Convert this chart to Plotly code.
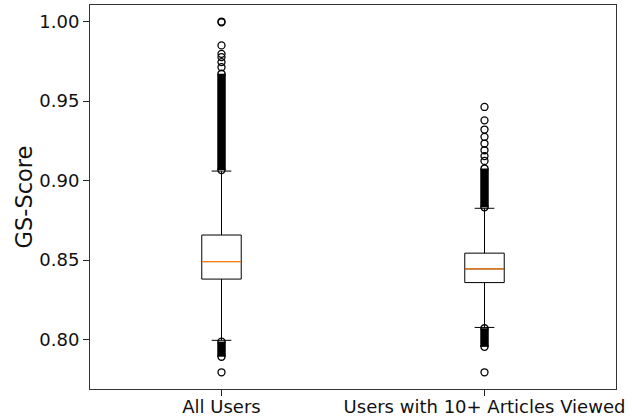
import plotly.graph_objects as go

# Group names shown on the x axis
groups = ["All Users", "Users with 10+ Articles Viewed"]
positions = [1, 2]

# Box statistics per group
q1 = [0.8381, 0.8359]
median = [0.8491, 0.8445]
q3 = [0.8658, 0.8544]
lower_whisker = [0.7996, 0.8077]
upper_whisker = [0.9060, 0.8826]

# Individually distinguishable outliers per group
outliers_all = [0.7795, 0.9713, 0.9745, 0.9776, 0.9797, 0.9850, 0.9995, 1.0000]
outliers_10plus = [0.7795, 0.9124, 0.9154, 0.9191, 0.9233, 0.9275, 0.9321, 0.9379, 0.9463]
outlier_lists = [outliers_all, outliers_10plus]

# Ranges so densely packed with outliers that they merge into a solid band
dense_low = [(0.7893, 0.7988), (0.7955, 0.8072)]
dense_high = [(0.9066, 0.9672), (0.8832, 0.9076)]

box_width = 0.15
FONT = "DejaVu Sans"

fig = go.Figure()

for i, p in enumerate(positions):
    fig.add_trace(go.Box(
        x=[p], q1=[q1[i]], median=[median[i]], q3=[q3[i]],
        lowerfence=[lower_whisker[i]], upperfence=[upper_whisker[i]],
        width=box_width, whiskerwidth=0.5, boxpoints=False,
        line=dict(color="black", width=1), fillcolor="rgba(0,0,0,0)",
        showlegend=False, hoverinfo="skip",
    ))

for i, p in enumerate(positions):
    # merged outlier bands
    for lo, hi in (dense_low[i], dense_high[i]):
        fig.add_trace(go.Scatter(
            x=[p, p], y=[lo, hi], mode="lines+markers",
            line=dict(color="black", width=8.5),
            marker=dict(symbol="circle-open", size=7, color="black",
                        line=dict(width=1.4, color="black")),
            showlegend=False, hoverinfo="skip",
        ))
    # separate outlier circles
    fig.add_trace(go.Scatter(
        x=[p] * len(outlier_lists[i]), y=outlier_lists[i], mode="markers",
        marker=dict(symbol="circle-open", size=7, color="black",
                    line=dict(width=1.3, color="black")),
        showlegend=False, hoverinfo="skip",
    ))
    # median line in orange
    fig.add_trace(go.Scatter(
        x=[p - box_width / 2, p + box_width / 2], y=[median[i], median[i]],
        mode="lines", line=dict(color="#ff7f0e", width=1.3),
        showlegend=False, hoverinfo="skip",
    ))

fig.update_layout(
    width=632, height=419,
    margin=dict(l=90, r=15.5, t=5, b=29.5),
    paper_bgcolor="white", plot_bgcolor="white",
    font=dict(family=FONT, color="#111111"),
    xaxis=dict(
        range=[0.5, 2.5], tickvals=positions, ticktext=groups,
        tickfont=dict(size=18, family=FONT, color="#111111"),
        ticks="outside", ticklen=6, tickcolor="#222222", ticklabelstandoff=-5,
        showline=True, linecolor="#333333", linewidth=1, mirror=True,
        showgrid=False, zeroline=False, automargin=False,
    ),
    yaxis=dict(
        range=[0.769, 1.0104],
        tickvals=[0.80, 0.85, 0.90, 0.95, 1.00],
        ticktext=["0.80", "0.85", "0.90", "0.95", "1.00"],
        tickfont=dict(size=18, family=FONT, color="#111111"),
        ticks="outside", ticklen=6, tickcolor="#222222",
        showline=True, linecolor="#333333", linewidth=1, mirror=True,
        showgrid=False, zeroline=False, automargin=False,
        title=dict(text="GS-Score", font=dict(size=22.5, family=FONT, color="#111111"), standoff=0),
    ),
)

fig.write_html("out.html")
